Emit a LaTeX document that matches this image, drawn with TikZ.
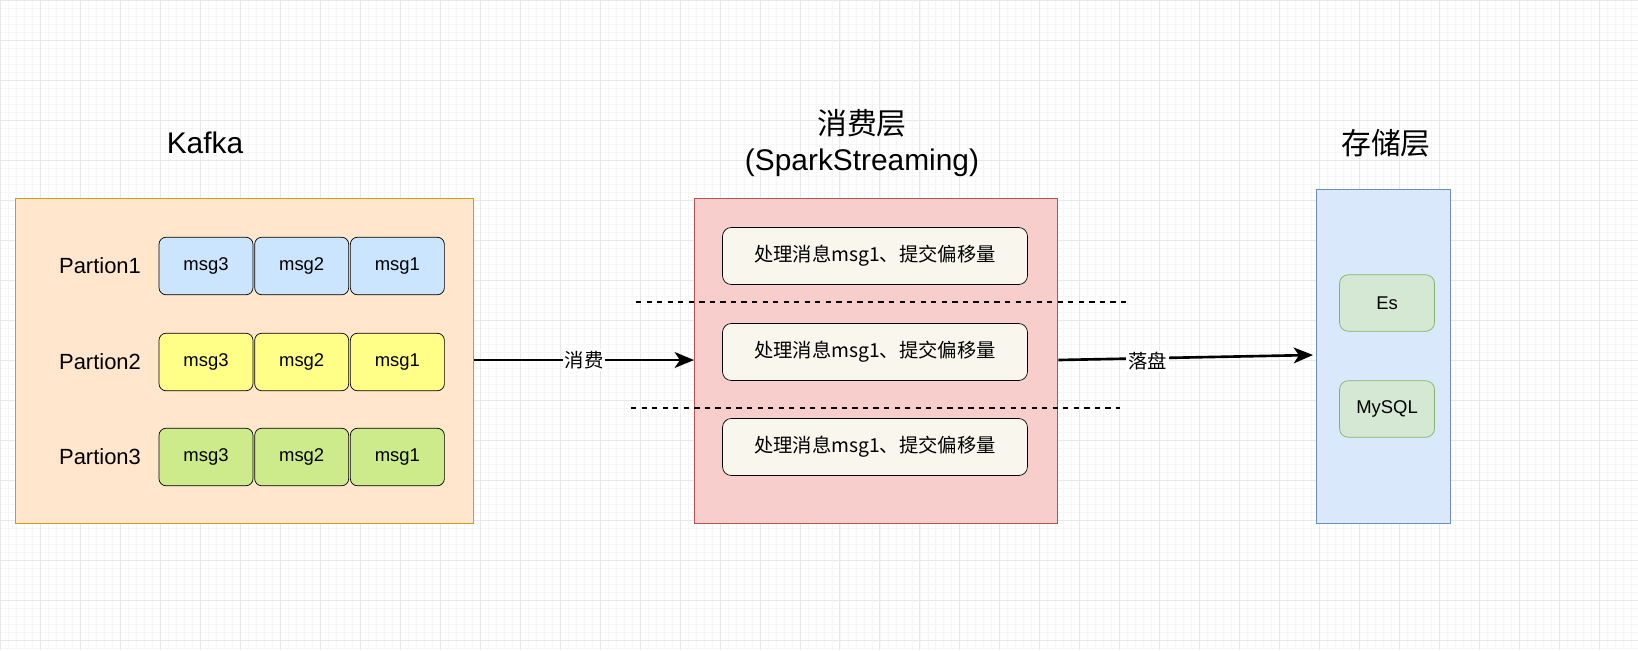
\documentclass[tikz,border=0pt]{standalone}
\usepackage{fontspec}
\setmainfont{Liberation Sans}
\newfontfamily\cjk{Noto Sans CJK SC}
\usetikzlibrary{positioning,arrows.meta}
\definecolor{kafkaFill}{HTML}{FFE6CC}
\definecolor{kafkaLine}{HTML}{D79B00}
\definecolor{sparkFill}{HTML}{F8CECC}
\definecolor{sparkLine}{HTML}{B85450}
\definecolor{storeFill}{HTML}{DAE8FC}
\definecolor{storeLine}{HTML}{6C8EBF}
\definecolor{msgBlue}{HTML}{CCE5FF}
\definecolor{msgYellow}{HTML}{FFFF88}
\definecolor{msgGreen}{HTML}{CDEB8B}
\definecolor{dbFill}{HTML}{D5E8D4}
\definecolor{dbLine}{HTML}{82B366}
\definecolor{stepFill}{HTML}{F9F7ED}
\tikzset{
  layer/.style={draw, line width=0.8pt, anchor=north west},
  msg/.style={draw, rounded corners=4pt, minimum width=1.88cm, minimum height=1.15cm, font=\fontsize{10.5}{12}\selectfont},
  handle/.style={draw, fill=stepFill, rounded corners=5pt, minimum width=6.1cm, minimum height=1.14cm, font=\cjk\fontsize{11}{13}\selectfont},
  db/.style={draw=dbLine, fill=dbFill, rounded corners=5pt, minimum width=1.9cm, minimum height=1.13cm, font=\fontsize{10.5}{12}\selectfont},
  title/.style={font=\fontsize{17}{20}\selectfont, align=center},
  flow/.style={-{Stealth[length=11pt, width=9pt, inset=3pt]}, line width=1.5pt}
}
\begin{document}
\begin{tikzpicture}[x=0.02cm, y=-0.02cm]
  \useasboundingbox (0,0) rectangle (1638,650);
  \clip (0,0) rectangle (1638,650);
  \fill[white] (0,0) rectangle (1638,650);
  \draw[black!4, step=0.16cm] (0,0) grid (1638,650);
  \draw[black!9, step=0.8cm] (0,0) grid (1638,650);
  % Kafka
  \node[title] (kafkaT) at (205,143) {Kafka};
  \node[layer, fill=kafkaFill, draw=kafkaLine, minimum width=9.16cm, minimum height=6.5cm] (kafka) at (15,198) {};
  \foreach \i/\y/\c in {1/266/msgBlue, 2/362/msgYellow, 3/457/msgGreen} {
    \node[font=\fontsize{12.5}{14}\selectfont] (p\i) at (100,\y) {Partion\i};
    \node[msg, fill=\c] (m\i a) at (206,\y) {msg3};
    \node[msg, fill=\c, right=0.02cm of m\i a] (m\i b) {msg2};
    \node[msg, fill=\c, right=0.02cm of m\i b] (m\i c) {msg1};
  }
  % SparkStreaming
  \node[title] (sparkT) at (862,143) {{\cjk 消费层}\\(SparkStreaming)};
  \node[layer, fill=sparkFill, draw=sparkLine, minimum width=7.26cm, minimum height=6.5cm] (spark) at (694,198) {};
  \foreach \i/\y in {1/256, 2/352, 3/447}
    \node[handle] (s\i) at (875,\y) {处理消息msg1、提交偏移量};
  \draw[dashed, line width=0.7pt] (636,302) coordinate (d1a) -- (1127,302) coordinate (d1b);
  \draw[dashed, line width=0.7pt] (631,408) coordinate (d2a) -- (1120,408) coordinate (d2b);
  % storage
  \node[title, font=\cjk\fontsize{17}{20}\selectfont] (storeT) at (1386,143) {存储层};
  \node[layer, fill=storeFill, draw=storeLine, minimum width=2.68cm, minimum height=6.68cm] (store) at (1316,189) {};
  \node[db] (es) at (1387,303) {Es};
  \node[db] (mysql) at (1387,409) {MySQL};
  % arrows
  \draw[flow] (kafka.east |- 0,360) -- node[fill=white, inner sep=1pt, font=\cjk\fontsize{11}{13}\selectfont] {消费} (spark.west |- 0,360);
  \draw[flow] (spark.east |- 0,360) coordinate (o) -- node[pos=0.35, below=-5pt, fill=white, inner sep=1pt, font=\cjk\fontsize{11}{13}\selectfont] {落盘} (1313,355);
\end{tikzpicture}
\end{document}
